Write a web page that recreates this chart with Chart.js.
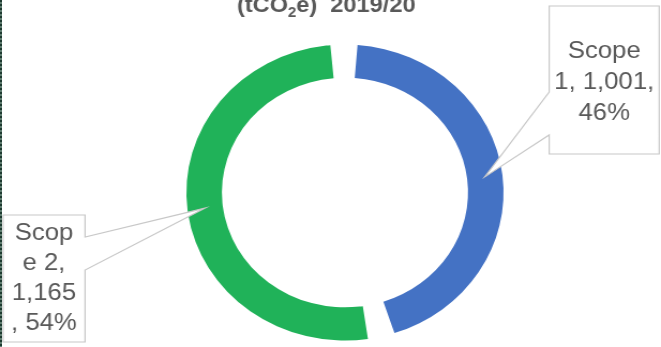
<!DOCTYPE html>
<html>
<head>
<meta charset="utf-8">
<script src="https://cdn.jsdelivr.net/npm/chart.js@4"></script>
<style>
  html, body { margin: 0; padding: 0; background: #fff; overflow: hidden; width: 661px; height: 347px; }
  #wrap { position: absolute; left: 0; top: -20px; width: 617px; height: 400px; transform: scaleX(1.0713); transform-origin: 0 0; }
  #borda { position: absolute; left: 0; top: 0; width: 2px; height: 347px; z-index: 2;
           background: repeating-linear-gradient(#1e3a30 0 2px, #5f7d70 2px 4px); }
</style>
</head>
<body>
<div id="borda"></div>
<div id="wrap"><canvas id="graficoEmissoes" width="617" height="400"></canvas></div>
<script>
// Dados do gráfico
const categorias = ['Scope 1', 'Scope 2'];
const emissoes = [1001, 1165];
const percentuais = [46, 54];
// rótulos quebrados como no original
const textosRotulos = [['Scope', '1, 1,001,', '46%'], ['Scop', 'e 2,', '1,165', ', 54%']];
const cores = ['#4472c4', '#20b259'];

const corTexto = '#595959';
const fonte = '"Liberation Sans", Arial, sans-serif';

// Caixas dos rótulos (coordenadas do canvas)
const caixas = [
  { x0: 512.6, y0: 26, x1: 615.3, y1: 174, lado: 'esq', b0: 112, b1: 155, cx: 564, ys: [71, 102, 133] },
  { x0: 2.8, y0: 235, x1: 79.4, y1: 362, lado: 'dir', b0: 257, b1: 290, cx: 41, ys: [253, 283, 313, 343] }
];

// Título com subscrito
const pluginTitulo = {
  id: 'titulo',
  afterDraw(chart) {
    const ctx = chart.ctx;
    const partes = [
      { t: '(tCO', size: 22, dy: 0 },
      { t: '2', size: 14, dy: 5 },
      { t: 'e)  2019/20', size: 22, dy: 0 }
    ];
    ctx.save();
    ctx.fillStyle = corTexto;
    ctx.textBaseline = 'alphabetic';
    ctx.textAlign = 'left';
    let total = 0;
    partes.forEach(p => {
      ctx.font = `bold ${p.size}px ${fonte}`;
      p.w = ctx.measureText(p.t).width;
      total += p.w;
    });
    let x = 304.5 - total / 2;
    partes.forEach(p => {
      ctx.font = `bold ${p.size}px ${fonte}`;
      ctx.fillText(p.t, x, 32 + p.dy);
      x += p.w;
    });
    ctx.restore();
  }
};

// Rótulos tipo "callout" do Excel
const pluginRotulos = {
  id: 'rotulos',
  afterDraw(chart) {
    const ctx = chart.ctx;
    const arcos = chart.getDatasetMeta(0).data;
    ctx.save();
    arcos.forEach((arco, i) => {
      const c = caixas[i];
      const ponta = arco.getCenterPoint();
      ctx.beginPath();
      if (c.lado === 'esq') {
        ctx.moveTo(c.x0, c.y0);
        ctx.lineTo(c.x1, c.y0);
        ctx.lineTo(c.x1, c.y1);
        ctx.lineTo(c.x0, c.y1);
        ctx.lineTo(c.x0, c.b1);
        ctx.lineTo(ponta.x, ponta.y);
        ctx.lineTo(c.x0, c.b0);
      } else {
        ctx.moveTo(c.x0, c.y0);
        ctx.lineTo(c.x1, c.y0);
        ctx.lineTo(c.x1, c.b0);
        ctx.lineTo(ponta.x, ponta.y);
        ctx.lineTo(c.x1, c.b1);
        ctx.lineTo(c.x1, c.y1);
        ctx.lineTo(c.x0, c.y1);
      }
      ctx.closePath();
      ctx.fillStyle = '#ffffff';
      ctx.fill();
      ctx.strokeStyle = '#c8c8c8';
      ctx.lineWidth = 1.2;
      ctx.stroke();

      ctx.fillStyle = corTexto;
      ctx.font = `24px ${fonte}`;
      ctx.textAlign = 'center';
      ctx.textBaseline = 'middle';
      textosRotulos[i].forEach((linha, j) => ctx.fillText(linha, c.cx, c.ys[j]));
    });
    ctx.restore();
  }
};

new Chart(document.getElementById('graficoEmissoes'), {
  type: 'doughnut',
  data: {
    labels: categorias,
    datasets: [{
      data: emissoes,
      backgroundColor: cores,
      borderWidth: 0,
      spacing: 14
    }]
  },
  options: {
    responsive: false,
    animation: false,
    radius: 141,
    cutout: '76.5%',
    layout: { padding: { left: 27, top: 25, right: 0, bottom: 0 } },
    plugins: {
      legend: { display: false },
      tooltip: { enabled: false },
      title: { display: false }
    }
  },
  plugins: [pluginTitulo, pluginRotulos]
});
</script>
</body>
</html>
